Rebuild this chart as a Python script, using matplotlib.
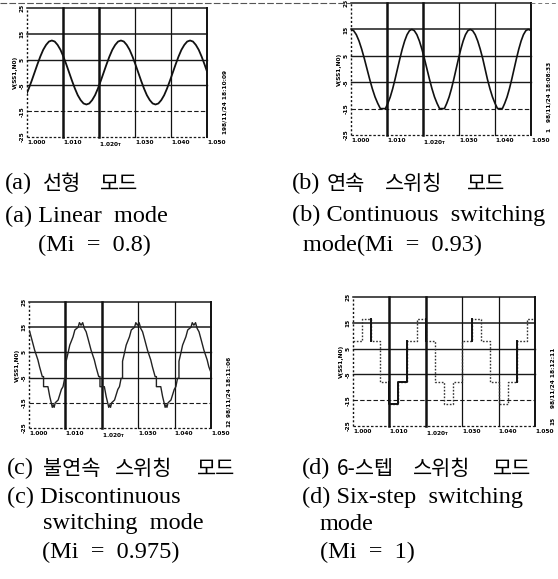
import numpy as np
import matplotlib
matplotlib.use("Agg")
import matplotlib.pyplot as plt
from matplotlib.lines import Line2D

W, H = 558, 579

# shared scope graticule (time in ms after 1.000 s, voltage in V)
t_ticks = [0, 10, 20, 30, 40, 50]
t_labels = ["1.000", "1.010", r"1.020$_{\mathregular{T}}$", "1.030", "1.040", "1.050"]
v_ticks = [25, 15, 5, -5, -15, -25]
v_labels = ["25", "15", "5", "-5", "-15", "-25"]

# (a) linear mode, Mi = 0.8
t_a = [0.0, 0.5, 1.3,
       2.1, 2.9, 3.7, 4.5, 5.3, 6.1, 6.9, 7.7, 8.5, 9.3, 10.1, 10.9,
       11.7, 12.5, 13.3, 14.1, 14.9, 15.7, 16.5, 17.3, 18.1, 18.9, 19.7, 20.5,
       21.3, 22.1, 22.9, 23.7, 24.5, 25.3, 26.1, 26.9, 27.7, 28.5, 29.3, 30.1,
       30.9, 31.7, 32.5, 33.3, 34.1, 34.9, 35.7, 36.5, 37.3, 38.1, 38.9, 39.7,
       40.5, 41.3, 42.1, 42.9, 43.7, 44.5, 45.3, 46.1, 46.9, 47.7, 48.5, 49.3,
       50.0]
v_a = [-7.9, -6.2, -3.2,
       0.0, 3.2, 6.2, 8.8, 10.7, 12.0, 12.4, 12.0, 10.7, 8.8, 6.2, 3.2,
       0.0, -3.2, -6.2, -8.8, -10.7, -12.0, -12.4, -12.0, -10.7, -8.8, -6.2, -3.2,
       0.0, 3.2, 6.2, 8.8, 10.7, 12.0, 12.4, 12.0, 10.7, 8.8, 6.2, 3.2,
       0.0, -3.2, -6.2, -8.8, -10.7, -12.0, -12.4, -12.0, -10.7, -8.8, -6.2, -3.2,
       0.0, 3.2, 6.2, 8.8, 10.7, 12.0, 12.4, 12.0, 10.7, 8.8, 6.2, 3.2,
       0.4]

# (b) continuous switching mode, Mi = 0.93
t_b = [0.0, 0.74, 1.48, 2.23, 2.97, 3.71, 4.45, 5.19, 5.93, 6.68, 7.42, 8.16, 8.9,
       9.57, 10.23, 10.9, 11.57, 12.23, 12.9, 13.57, 14.23, 14.9, 15.57, 16.23, 16.9,
       17.6, 18.3, 19.0, 19.7, 20.4, 21.1, 21.8, 22.5, 23.2, 23.9, 24.6, 25.3,
       25.95, 26.6, 27.25, 27.9, 28.55, 29.2, 29.85, 30.5, 31.15, 31.8, 32.45, 33.1,
       33.8, 34.5, 35.2, 35.9, 36.6, 37.25, 37.9, 38.6, 39.3, 40.0, 40.7, 41.4,
       42.05, 42.7, 43.35, 44.0, 44.65, 45.3, 45.95, 46.6, 47.25, 47.9, 48.55, 49.2, 50.0]
v_b = [15.0, 14.5, 13.0, 10.6, 7.5, 3.9, 0.0, -3.9, -7.5, -10.6, -13.0, -15.0, -15.0,
       -15.0, -13.0, -10.6, -7.5, -3.9, 0.0, 3.9, 7.5, 10.6, 13.0, 14.5, 15.0,
       14.5, 13.0, 10.6, 7.5, 3.9, 0.0, -3.9, -7.5, -10.6, -13.0, -15.0, -15.0,
       -15.0, -13.0, -10.6, -7.5, -3.9, 0.0, 3.9, 7.5, 10.6, 13.0, 14.5, 15.0,
       14.5, 13.0, 10.6, 7.5, 3.9, 0.0, -3.9, -7.5, -10.6, -13.0, -15.0, -15.0,
       -15.0, -13.0, -10.6, -7.5, -3.9, 0.0, 3.9, 7.5, 10.6, 13.0, 14.5, 15.0, 14.6]

# (c) discontinuous switching mode, Mi = 0.975
t_c = [0.0, 0.2, 0.8, 1.55, 2.45, 2.9, 3.65, 4.0, 4.0, 5.2, 5.7, 6.2, 6.4, 6.65, 6.9, 7.2,
       8.0, 8.9, 9.35, 9.8, 10.2, 10.2, 10.7, 11.2, 12.1, 12.6, 13.5,
       13.85, 14.3, 14.75, 15.2, 15.7, 16.3, 17.05, 17.95, 18.4, 19.15, 19.5, 19.5,
       20.7, 21.2, 21.7, 21.9, 22.15, 22.4, 22.7,
       23.5, 24.4, 24.85, 25.3, 25.7, 25.7, 26.2, 26.7, 27.6, 28.1, 29.0,
       29.35, 29.8, 30.25, 30.7, 31.2, 31.8, 32.55, 33.45, 33.9, 34.65, 35.0, 35.0,
       36.2, 36.7, 37.2, 37.4, 37.65, 37.9, 38.2,
       39.0, 39.9, 40.35, 40.8, 41.2, 41.2, 41.7, 42.2, 43.1, 43.6, 44.5,
       44.85, 45.3, 45.75, 46.2, 46.7, 47.3, 48.05, 48.95, 49.4, 50.0]
v_c = [13.7, 13.2, 10.0, 5.9, 2.0, -0.7, -4.6, -4.6, -8.6, -8.6, -12.5, -15.5, -16.8, -15.8, -16.8, -15.0,
       -13.9, -9.7, -8.6, -5.3, -5.3, 1.5, 4.6, 7.9, 11.2, 13.9, 15.0,
       16.8, 15.8, 16.8, 14.5, 13.2, 10.0, 5.9, 2.0, -0.7, -4.6, -4.6, -8.6,
       -8.6, -12.5, -15.5, -16.8, -15.8, -16.8, -15.0,
       -13.9, -9.7, -8.6, -5.3, -5.3, 1.5, 4.6, 7.9, 11.2, 13.9, 15.0,
       16.8, 15.8, 16.8, 14.5, 13.2, 10.0, 5.9, 2.0, -0.7, -4.6, -4.6, -8.6,
       -8.6, -12.5, -15.5, -16.8, -15.8, -16.8, -15.0,
       -13.9, -9.7, -8.6, -5.3, -5.3, 1.5, 4.6, 7.9, 11.2, 13.9, 15.0,
       16.8, 15.8, 16.8, 14.5, 13.2, 10.0, 5.9, 2.0, -0.7, -3.0]

# (d) six-step switching mode, Mi = 1: step instants and held levels
t_d = [0.0, 2.38, 4.89, 7.42, 9.94, 12.44, 14.97, 17.50, 20.00, 22.53,
       25.05, 27.55, 30.08, 32.60, 35.11, 37.63, 40.16, 42.66, 45.19, 47.72]
v_d = [8.1, 16.4, 8.1, -8.1, -16.4, -8.1, 8.1, 16.4, 8.1, -8.1,
       -16.4, -8.1, 8.1, 16.4, 8.1, -8.1, -16.4, -8.1, 8.1, 16.4]
t_end = 50.0

stamps = ["98/11/24 18:10:09", "98/11/24 18:08:33", "98/11/24 18:11:06", "98/11/24 18:12:11"]
page_no = ["1", "1", "12", "15"]

plt.rcParams["font.family"] = ["DejaVu Sans"]
fig = plt.figure(figsize=(W / 100, H / 100), dpi=100)

def px_axes(l, t, r, b):
    return fig.add_axes([l / W, 1 - b / H, (r - l) / W, (b - t) / H])

# graticule line styles, from top/left to bottom/right
h_style = [("-", 1.1), ("-", 1.1), ("-", 1.0), ("-", 1.0), ((0, (4, 2)), 0.8), ((0, (2, 1.5)), 0.9)]
v_style = [((0, (1.5, 1.5)), 1.0), ("-", 1.8), ("-", 1.8), ("-", 0.9), ("-", 0.9), ("-", 1.4)]

def scope(ax, stamp, page, stamp_y):
    ax.set_xlim(0, 50)
    ax.set_ylim(-25, 25)
    for s in ax.spines.values():
        s.set_visible(False)
    for v, (ls, lw) in zip(v_ticks, h_style):
        ax.axhline(v, color="#1a1a1a", ls=ls, lw=lw, clip_on=False, zorder=1)
    for t, (ls, lw) in zip(t_ticks, v_style):
        ax.axvline(t, color="#111111", ls=ls, lw=lw, clip_on=False, zorder=1)
    ax.set_xticks(t_ticks)
    ax.set_xticklabels(t_labels, fontsize=4.2, fontweight="bold")
    for lab in ax.get_xticklabels():
        lab.set_horizontalalignment("left")
    ax.set_yticks(v_ticks)
    ax.set_yticklabels(v_labels, fontsize=4.2, fontweight="bold", rotation=90, va="center")
    ax.tick_params(length=0, pad=2)
    ax.set_ylabel("V(SS1,N0)", fontsize=4.2, fontweight="bold", labelpad=1)
    ax.text(1.10, stamp_y, stamp, transform=ax.transAxes, rotation=90, fontsize=4.2,
            fontweight="bold", ha="center", va="center")
    ax.text(1.10, 0.04, page, transform=ax.transAxes, rotation=90, fontsize=4.2,
            fontweight="bold", ha="center", va="center")

ax_a = px_axes(27, 8, 207, 137)
scope(ax_a, stamps[0], page_no[0], 0.29)
ax_a.plot(t_a, v_a, color="#111111", lw=1.3, zorder=3)

ax_b = px_axes(351, 3, 531, 135)
scope(ax_b, stamps[1], page_no[1], 0.33)
ax_b.plot(t_b, v_b, color="#111111", lw=1.2, zorder=3)

ax_c = px_axes(29, 302, 211, 428)
scope(ax_c, stamps[2], page_no[2], 0.33)
ax_c.plot(t_c, v_c, color="#222222", lw=1.0, zorder=3)

ax_d = px_axes(353, 297, 535, 426)
scope(ax_d, stamps[3], page_no[3], 0.37)
ax_d.step(t_d + [t_end], v_d + [v_d[-1]], where="post", color="#333333", lw=1.0,
          ls=(0, (1.2, 1.2)), zorder=3)
# part of the six-step trace comes out solid on the scope
xs = np.repeat(t_d + [t_end], 2)[1:-1]
ys = np.repeat(v_d, 2)
for lo, hi in [(4.5, 5.3), (9.8, 15.2), (19.8, 20.3), (32.4, 32.8), (45.0, 45.5)]:
    m = (xs >= lo) & (xs <= hi)
    ax_d.plot(xs[m], ys[m], color="#111111", lw=1.4, zorder=4)

# page rule along the top edge
fig.add_artist(Line2D([0, 351 / W], [1 - 3 / H, 1 - 3 / H], color="#555555", lw=0.8,
                      ls=(0, (6, 2))))
fig.add_artist(Line2D([531 / W, 1], [1 - 3 / H, 1 - 3 / H], color="#777777", lw=0.7,
                      ls=(0, (4, 3))))

serif = ["Liberation Serif"]
hangul = ["Noto Sans CJK KR"]

def caption(x, y, s, fam=serif, size=17.5):
    fig.text(x / W, 1 - y / H, s, family=fam, fontsize=size, ha="left", va="center")

def kr_caption(x, y, tag, words, xs_words):
    caption(x, y, tag)
    for w, wx in zip(words, xs_words):
        caption(wx, y + 1, w, hangul, 15)

kr_caption(5, 183, "(a)", ["선형", "모드"], [43, 100])
caption(5, 216, "(a) Linear  mode")
caption(38, 245, "(Mi  =  0.8)")

kr_caption(292, 183, "(b)", ["연속", "스위칭", "모드"], [327, 385, 467])
caption(292, 215, "(b) Continuous  switching")
caption(303, 245, "mode(Mi  =  0.93)")

kr_caption(7, 468, "(c)", ["불연속", "스위칭", "모드"], [43, 115, 197])
caption(7, 497, "(c) Discontinuous")
caption(43, 524, "switching  mode")
caption(42, 552, "(Mi  =  0.975)")

kr_caption(302, 468, "(d)", ["6-스텝", "스위칭", "모드"], [337, 413, 493])
caption(302, 497, "(d) Six-step  switching")
caption(320, 524, "mode")
caption(320, 552, "(Mi  =  1)")

fig.savefig("out.png", dpi=100)
